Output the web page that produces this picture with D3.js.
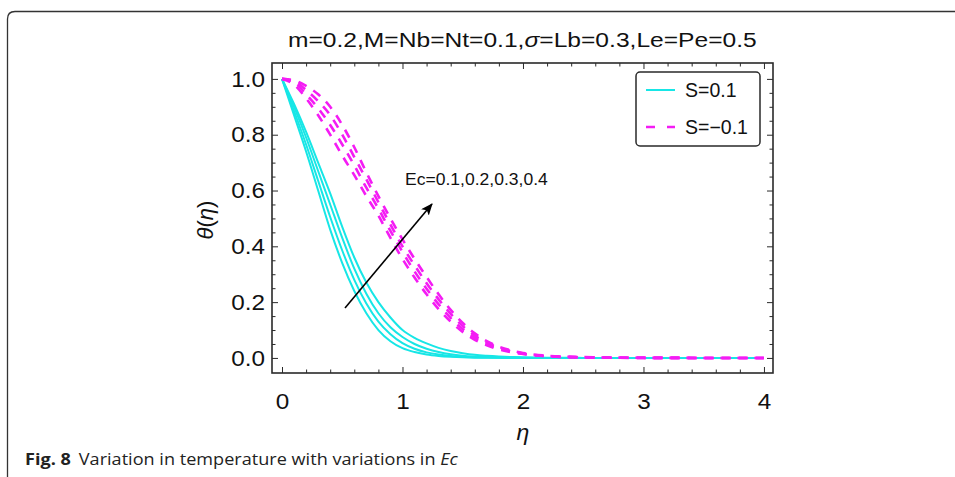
<!DOCTYPE html>
<html>
<head>
<meta charset="utf-8">
<script src="https://cdn.jsdelivr.net/npm/d3@7"></script>
<style>
    html, body { margin: 0; padding: 0; background: #fff; }
    svg { display: block; }
    .plotfont { font-family: "Liberation Sans", Arial, sans-serif; }
    .caption { font-family: "Open Sans", "Noto Sans", sans-serif; }
</style>
</head>
<body>
<svg id="chart" width="955" height="477"></svg>
<script>
const eta = [0, 0.1, 0.2, 0.3, 0.4, 0.5, 0.6, 0.7, 0.8, 0.9, 1.0, 1.1, 1.2, 1.3, 1.4, 1.5, 1.6,
             1.7, 1.8, 1.9, 2.0, 2.2, 2.5, 3.0, 3.5, 4.0];

// S = 0.1, Ec = 0.1 .. 0.4 (solid)
const thetaS1 = [
    [1, 0.87, 0.74, 0.60, 0.46, 0.34, 0.24, 0.16, 0.10, 0.06, 0.035, 0.021, 0.012, 0.007, 0.004, 0.002, 0.001,
     0.0006, 0.0003, 0.0001, 0, 0, 0, 0, 0, 0],
    [1, 0.885, 0.765, 0.635, 0.505, 0.385, 0.28, 0.195, 0.13, 0.085, 0.053, 0.033, 0.02, 0.012, 0.007, 0.004, 0.002,
     0.0013, 0.0008, 0.0004, 0.0002, 0, 0, 0, 0, 0],
    [1, 0.90, 0.79, 0.67, 0.55, 0.43, 0.32, 0.23, 0.16, 0.11, 0.075, 0.05, 0.033, 0.021, 0.013, 0.008, 0.005,
     0.003, 0.002, 0.0012, 0.0007, 0.0002, 0, 0, 0, 0],
    [1, 0.91, 0.81, 0.70, 0.59, 0.47, 0.36, 0.27, 0.20, 0.145, 0.10, 0.072, 0.052, 0.036, 0.025, 0.017, 0.011,
     0.0075, 0.005, 0.0033, 0.002, 0.0008, 0.0002, 0, 0, 0],
];

// S = -0.1, Ec = 0.1 .. 0.4 (dashed)
const thetaS2 = [
    [1, 0.98, 0.93, 0.87, 0.80, 0.725, 0.655, 0.58, 0.51, 0.43, 0.355, 0.288, 0.228, 0.175, 0.13, 0.093, 0.065,
     0.045, 0.031, 0.021, 0.014, 0.006, 0.002, 0.0002, 0, 0],
    [1, 0.988, 0.945, 0.895, 0.835, 0.765, 0.69, 0.61, 0.535, 0.455, 0.38, 0.31, 0.248, 0.192, 0.143, 0.103, 0.072,
     0.05, 0.034, 0.023, 0.015, 0.0065, 0.002, 0.0003, 0, 0],
    [1, 0.992, 0.96, 0.92, 0.87, 0.80, 0.72, 0.64, 0.558, 0.478, 0.40, 0.332, 0.268, 0.21, 0.158, 0.114, 0.08,
     0.055, 0.037, 0.025, 0.016, 0.007, 0.0025, 0.0004, 0, 0],
    [1, 0.995, 0.975, 0.945, 0.90, 0.835, 0.755, 0.665, 0.58, 0.50, 0.425, 0.355, 0.29, 0.228, 0.172, 0.125, 0.088,
     0.06, 0.04, 0.027, 0.018, 0.008, 0.003, 0.0005, 0, 0],
];

const xTicks = [0, 1, 2, 3, 4];
const yTicks = [0, 0.2, 0.4, 0.6, 0.8, 1.0];
const legendLabels = ["S=0.1", "S=\u22120.1"];
const ecLabel = "Ec=0.1,0.2,0.3,0.4";

const cyan = "#17e6e6";
const magenta = "#f41cf4";
const ink = "#2a2a2a";

const svg = d3.select("#chart");
const frame = {left: 272, right: 773, top: 63, bottom: 373};

const x = d3.scaleLinear().domain([-0.083, 4.075]).range([frame.left, frame.right]);
const y = d3.scaleLinear().domain([-0.054, 1.057]).range([frame.bottom, frame.top]);

// outer figure box (clipped at the right and bottom edges)
svg.append("path")
    .attr("d", "M 7.5 477 V 19 Q 7.5 11.5 15 11.5 H 955")
    .attr("fill", "none")
    .attr("stroke", "#333")
    .attr("stroke-width", 1.3);

const plot = svg.append("g").attr("class", "plotfont");

// curves
const line = d3.line()
    .x((d, i) => x(eta[i]))
    .y(d => y(d))
    .curve(d3.curveMonotoneX);

plot.append("g").selectAll("path")
    .data(thetaS1)
    .join("path")
    .attr("d", line)
    .attr("fill", "none")
    .attr("stroke", cyan)
    .attr("stroke-width", 2);

plot.append("g").selectAll("path")
    .data(thetaS2)
    .join("path")
    .attr("d", line)
    .attr("fill", "none")
    .attr("stroke", magenta)
    .attr("stroke-width", 2.6)
    .attr("stroke-dasharray", "9,8");

// frame + ticks on all four sides, pointing inwards
const minorX = d3.range(0, 4.01, 0.2).filter(v => Math.abs(v - Math.round(v)) > 1e-6);
const minorY = d3.range(0, 1.01, 0.05).filter(v => Math.abs(v * 5 - Math.round(v * 5)) > 1e-6);

function styleAxis(g) {
    g.select(".domain").remove();
    g.selectAll(".tick line").attr("stroke", ink).attr("stroke-width", 1);
    g.selectAll("text").attr("fill", "#111").style("font-size", "22.5px")
        .style("font-family", '"Liberation Sans", Arial, sans-serif')
        .attr("transform", "scale(1.08,1)");
}

plot.append("g").attr("transform", `translate(0,${frame.bottom})`)
    .call(d3.axisBottom(x).tickValues(xTicks).tickSize(-6).tickPadding(20).tickFormat(d3.format("d")))
    .call(styleAxis);
plot.append("g").attr("transform", `translate(0,${frame.bottom})`)
    .call(d3.axisBottom(x).tickValues(minorX).tickSize(-3.5).tickFormat(""))
    .call(styleAxis);
plot.append("g").attr("transform", `translate(0,${frame.top})`)
    .call(d3.axisTop(x).tickValues(xTicks).tickSize(-6).tickFormat(""))
    .call(styleAxis);
plot.append("g").attr("transform", `translate(0,${frame.top})`)
    .call(d3.axisTop(x).tickValues(minorX).tickSize(-3.5).tickFormat(""))
    .call(styleAxis);

plot.append("g").attr("transform", `translate(${frame.left},0)`)
    .call(d3.axisLeft(y).tickValues(yTicks).tickSize(-6).tickPadding(6.5).tickFormat(d3.format(".1f")))
    .call(styleAxis);
plot.append("g").attr("transform", `translate(${frame.left},0)`)
    .call(d3.axisLeft(y).tickValues(minorY).tickSize(-3.5).tickFormat(""))
    .call(styleAxis);
plot.append("g").attr("transform", `translate(${frame.right},0)`)
    .call(d3.axisRight(y).tickValues(yTicks).tickSize(-6).tickFormat(""))
    .call(styleAxis);
plot.append("g").attr("transform", `translate(${frame.right},0)`)
    .call(d3.axisRight(y).tickValues(minorY).tickSize(-3.5).tickFormat(""))
    .call(styleAxis);

plot.append("rect")
    .attr("x", frame.left)
    .attr("y", frame.top)
    .attr("width", frame.right - frame.left)
    .attr("height", frame.bottom - frame.top)
    .attr("fill", "none")
    .attr("stroke", ink)
    .attr("stroke-width", 1.6);

// stretch a text horizontally so it spans the given width
function fitWidth(sel, x0, y0, width) {
    const w = sel.node().getComputedTextLength();
    sel.attr("transform", `translate(${x0},${y0}) scale(${width / w},1)`);
}

// title
const title = plot.append("text")
    .attr("fill", "#111")
    .style("font-size", "21px");
title.append("tspan").text("m=0.2,M=Nb=Nt=0.1,");
title.append("tspan").style("font-style", "italic").text("\u03c3");
title.append("tspan").text("=Lb=0.3,Le=Pe=0.5");
fitWidth(title, 288, 47, 469);

// axis labels
const yLabel = plot.append("text")
    .attr("transform", "translate(213,220) rotate(-90)")
    .attr("text-anchor", "middle")
    .attr("fill", "#111")
    .style("font-size", "22px");
yLabel.append("tspan").style("font-style", "italic").text("\u03b8");
yLabel.append("tspan").text("(");
yLabel.append("tspan").style("font-style", "italic").text("\u03b7");
yLabel.append("tspan").text(")");

plot.append("text")
    .attr("x", x(2))
    .attr("y", 440)
    .attr("text-anchor", "middle")
    .attr("fill", "#111")
    .style("font-size", "23px")
    .style("font-style", "italic")
    .text("\u03b7");

// legend
const legend = plot.append("g");
legend.append("rect")
    .attr("x", 636).attr("y", 72)
    .attr("width", 124).attr("height", 74)
    .attr("rx", 4)
    .attr("fill", "#fff")
    .attr("stroke", ink)
    .attr("stroke-width", 1.5);
legend.selectAll("line")
    .data(legendLabels)
    .join("line")
    .attr("x1", 646).attr("x2", 675)
    .attr("y1", (d, i) => 90 + i * 37)
    .attr("y2", (d, i) => 90 + i * 37)
    .attr("stroke", (d, i) => i === 0 ? cyan : magenta)
    .attr("stroke-width", (d, i) => i === 0 ? 2 : 2.6)
    .attr("stroke-dasharray", (d, i) => i === 0 ? null : "9,12");
legend.selectAll("text")
    .data(legendLabels)
    .join("text")
    .attr("x", 685)
    .attr("y", (d, i) => 97 + i * 36.5)
    .attr("fill", "#111")
    .style("font-size", "19.5px")
    .text(d => d);

// Ec arrow annotation
svg.append("defs").append("marker")
    .attr("id", "arrowhead")
    .attr("viewBox", "0 0 12 10")
    .attr("refX", 11).attr("refY", 5)
    .attr("markerWidth", 12).attr("markerHeight", 10)
    .attr("markerUnits", "userSpaceOnUse")
    .attr("orient", "auto")
    .append("path")
    .attr("d", "M 0 0 L 12 5 L 0 10 L 3 5 Z")
    .attr("fill", "#000");

plot.append("line")
    .attr("x1", 345).attr("y1", 308)
    .attr("x2", 432).attr("y2", 204)
    .attr("stroke", "#000")
    .attr("stroke-width", 1.6)
    .attr("marker-end", "url(#arrowhead)");

const ec = plot.append("text")
    .attr("fill", "#111")
    .style("font-size", "16.5px")
    .text(ecLabel);
fitWidth(ec, 405, 185, 143);

// caption
const caption = svg.append("text")
    .attr("class", "caption")
    .attr("fill", "#222")
    .style("font-size", "16px");
caption.append("tspan").style("font-weight", "bold").text("Fig. 8");
caption.append("tspan").attr("dx", 7).text("Variation in temperature with variations in ");
caption.append("tspan").style("font-style", "italic").text("Ec");
fitWidth(caption, 25, 465, 425);
</script>
</body>
</html>
